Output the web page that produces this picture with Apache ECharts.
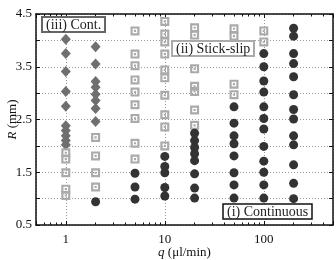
<!DOCTYPE html>
<html>
<head>
<meta charset="utf-8">
<script src="https://cdn.jsdelivr.net/npm/echarts@6/dist/echarts.min.js"></script>
<style>
  html, body { margin: 0; padding: 0; background: #fff; }
  #chart { width: 336px; height: 260px; }
</style>
</head>
<body>
<div id="chart"></div>
<script>
// flow rate columns (μl/min)
const qValues = [1, 2, 5, 10, 20, 50, 100, 200]

// R (mm) per column, one array per regime
const contIIIR = [
  [4.02, 3.75, 3.41, 3.03, 2.75, 2.38, 2.29, 2.19, 2.10, 2.02],
  [3.88, 3.55, 3.22, 3.11, 2.98, 2.86, 2.71, 2.46],
  [], [], [], [], [], []
]
const stickSlipR = [
  [1.87, 1.75, 1.49, 1.18, 1.06],
  [2.16, 1.81, 1.49, 1.22],
  [4.18, 3.74, 3.52, 3.25, 3.02, 2.78, 2.52, 2.05, 1.75],
  [4.36, 4.12, 3.97, 3.74, 3.44, 3.29, 2.96, 2.59, 2.36, 2.00],
  [4.24, 4.10, 3.46, 3.13, 3.03, 2.68, 2.39],
  [4.22, 4.08, 3.17, 2.97],
  [4.18, 3.97],
  []
]
const contIR = [
  [],
  [0.94],
  [1.48, 1.22, 0.99],
  [1.80, 1.61, 1.49, 1.21, 1.05],
  [2.24, 2.10, 1.97, 1.85, 1.72, 1.47, 1.20, 1.01],
  [2.74, 2.43, 2.19, 2.04, 1.81, 1.49, 1.26, 1.01],
  [3.75, 3.50, 3.23, 3.02, 2.74, 2.52, 2.32, 1.99, 1.71, 1.50, 1.26, 1.01],
  [4.23, 4.08, 3.75, 3.56, 3.31, 2.97, 2.69, 2.51, 2.19, 2.02, 1.64, 1.29, 1.00]
]

const xTickLabels = ['1', '10', '100']
const yTickLabels = ['0.5', '1.5', '2.5', '3.5', '4.5']

const serif = '"Liberation Serif", "DejaVu Serif", serif'

function toPoints(rows) {
  const pts = []
  rows.forEach((col, i) => {
    col.forEach(r => pts.push([qValues[i], r]))
  })
  return pts
}

// grey square with a thin white ring inside
const squareSymbol = 'path://M0 0H10V10H0Z M2.4 2.4V7.6H7.6V2.4Z M3.8 3.8H6.2V6.2H3.8Z'

const chart = echarts.init(document.getElementById('chart'), null, { renderer: 'canvas' })

const axisLine = { show: true, lineStyle: { color: '#111', width: 1.5 } }
const gridLine = { show: true, lineStyle: { color: '#999', type: [1, 2], width: 1 } }
const tick = { show: true, inside: true, length: 4, lineStyle: { color: '#111', width: 1 } }
const minor = { show: true, splitNumber: 9, length: 2.5, lineStyle: { color: '#111', width: 1 } }

const option = {
  animation: false,
  textStyle: { fontFamily: serif },
  title: [
    {
      text: '(iii) Cont.', left: 42, top: 17,
      padding: [1, 4, 0, 4], borderWidth: 2, borderColor: '#666', backgroundColor: '#fff',
      textStyle: { fontFamily: serif, fontSize: 14, fontWeight: 'normal', color: '#222' }
    },
    {
      text: '(ii) Stick-slip', left: 172, top: 41,
      padding: [1, 4, 0, 4], borderWidth: 2, borderColor: '#aaa', backgroundColor: '#fff',
      textStyle: { fontFamily: serif, fontSize: 14, fontWeight: 'normal', color: '#222' }
    },
    {
      text: '(i) Continuous', left: 223, top: 204,
      padding: [1, 4, 0, 4], borderWidth: 1.5, borderColor: '#111', backgroundColor: '#fff',
      textStyle: { fontFamily: serif, fontSize: 14, fontWeight: 'normal', color: '#222' }
    }
  ],
  grid: { left: 36, right: 3, top: 14, bottom: 35, outerBoundsMode: 'none', containLabel: false },
  xAxis: [
    {
      type: 'log', logBase: 10, min: 0.5, max: 500,
      name: '{i|q} (μl/min)', nameLocation: 'middle', nameGap: 21, nameMoveOverlap: false,
      nameTextStyle: {
        fontFamily: serif, fontSize: 13, color: '#111',
        rich: { i: { fontFamily: serif, fontSize: 13, fontStyle: 'italic', color: '#111' } }
      },
      axisLine: axisLine,
      axisTick: tick,
      minorTick: minor,
      axisLabel: {
        show: true, margin: 8, fontFamily: serif, fontSize: 13, color: '#111',
        showMinLabel: false, showMaxLabel: false,
        formatter: v => (xTickLabels.includes(String(v)) ? String(v) : '')
      },
      splitLine: gridLine
    },
    {
      type: 'log', logBase: 10, min: 0.5, max: 500, position: 'top',
      axisLine: axisLine,
      axisTick: tick,
      minorTick: minor,
      axisLabel: { show: false },
      splitLine: { show: false }
    }
  ],
  yAxis: [
    {
      type: 'value', min: 0.5, max: 4.5, interval: 0.5,
      name: '{i|R} (mm)', nameLocation: 'middle', nameGap: 17, nameRotate: 90, nameMoveOverlap: false,
      nameTextStyle: {
        fontFamily: serif, fontSize: 13, color: '#111',
        rich: { i: { fontFamily: serif, fontSize: 13, fontStyle: 'italic', color: '#111' } }
      },
      axisLine: axisLine,
      axisTick: tick,
      axisLabel: {
        margin: 4, fontFamily: serif, fontSize: 13, color: '#111',
        formatter: v => {
          const s = v.toFixed(1)
          return yTickLabels.includes(s) ? s : ''
        }
      },
      splitLine: gridLine
    },
    {
      type: 'value', min: 0.5, max: 4.5, interval: 0.5, position: 'right',
      axisLine: axisLine,
      axisTick: tick,
      axisLabel: { show: false },
      splitLine: { show: false }
    }
  ],
  series: [
    {
      name: '(iii) Cont.', type: 'scatter', symbol: 'diamond', symbolSize: [10, 11],
      itemStyle: { color: '#6f6f6f', opacity: 1 },
      data: toPoints(contIIIR), z: 3
    },
    {
      name: '(ii) Stick-slip', type: 'scatter', symbol: squareSymbol, symbolSize: 9,
      itemStyle: { color: '#aaaaaa', opacity: 1 },
      data: toPoints(stickSlipR), z: 3
    },
    {
      name: '(i) Continuous', type: 'scatter', symbol: 'circle', symbolSize: 9,
      itemStyle: { color: '#333', opacity: 1 },
      data: toPoints(contIR), z: 3
    }
  ]
}

chart.setOption(option)
</script>
</body>
</html>
